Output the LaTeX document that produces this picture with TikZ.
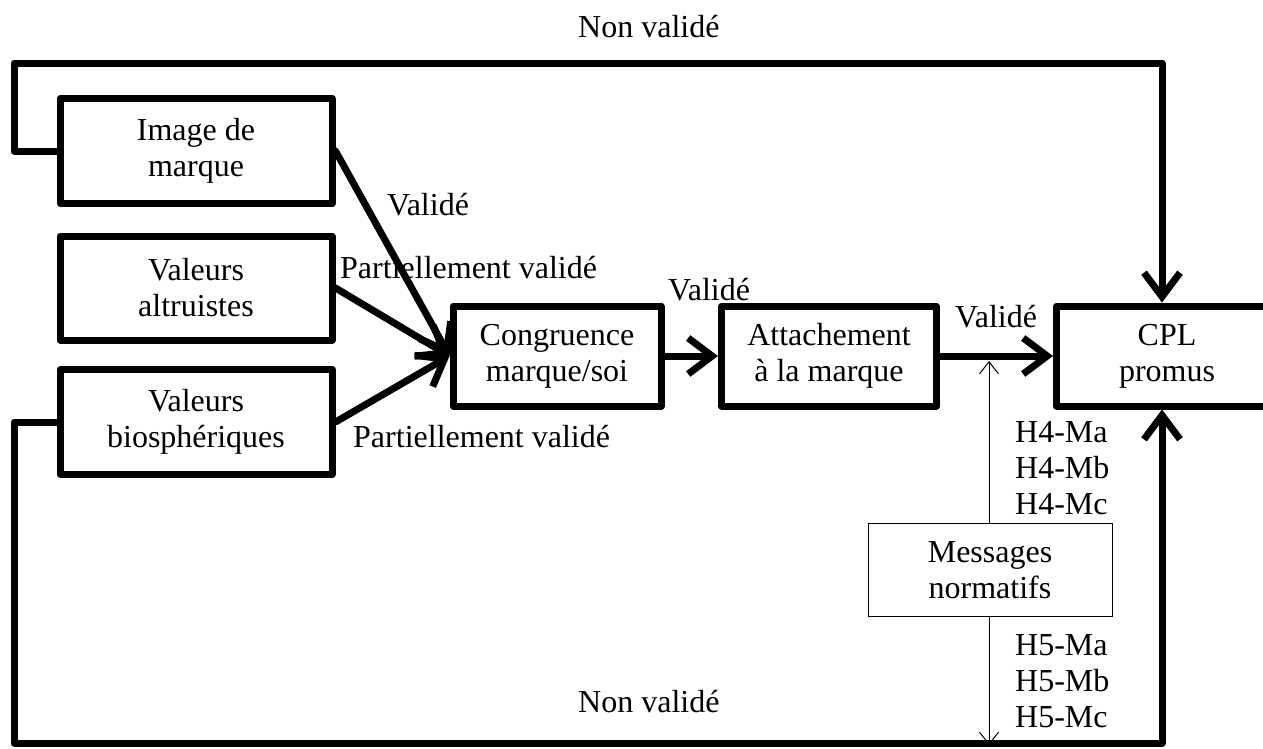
\documentclass[tikz,border=0pt]{standalone}
\usepackage{fontspec}
\setmainfont{Liberation Serif}
\usetikzlibrary{arrows.meta}

\begin{document}
\begin{tikzpicture}[x=1pt, y=-1pt,
  every node/.style={font=\fontsize{32}{36}\selectfont},
  box/.style={draw, line width=7pt, line join=round, align=center, inner sep=0pt},
  thinbox/.style={draw, line width=1pt, align=center, inner sep=0pt},
  flow/.style={line width=7pt, line cap=round, line join=round, -{Straight Barb[length=24pt,width=36pt]}},
  hint/.style={line width=1pt, -{Straight Barb[length=12pt,width=19pt]}}]
  \useasboundingbox (0,0) rectangle (1263,748);
  \clip (0,0) rectangle (1263,748);
  % Inputs
  \node[box, minimum width=272pt, minimum height=105pt] (img) at (196,151) {Image de\\marque};
  \node[box, minimum width=272pt, minimum height=104pt] (alt) at (196,288) {Valeurs\\altruistes};
  \node[box, minimum width=272pt, minimum height=105pt] (bio) at (196,422) {Valeurs\\biosphériques};
  % Chain
  \node[box, minimum width=208pt, minimum height=100pt] (cong) at (557,356) {Congruence\\marque/soi};
  \node[box, minimum width=215pt, minimum height=100pt] (att) at (829,356) {Attachement\\à la marque};
  \node[box, minimum width=221pt, minimum height=100pt] (cpl) at (1167,356) {CPL\\promus};
  % Moderator
  \node[thinbox, minimum width=244pt, minimum height=93pt] (msg) at (990,570) {Messages\\normatifs};
  \coordinate (toph) at (989,361);
  \coordinate (both) at (989,745);
  % Feedback corners
  \coordinate (topr) at (1162,63);
  \coordinate (botr) at (1162,743);
  % Arrows
  \draw[flow] (img.east) -- (cong.west);
  \draw[flow] (alt.east) -- (cong.west);
  \draw[flow] (bio.east) -- (cong.west);
  \draw[flow] (cong.east) -- (att.west);
  \draw[flow] (att.east) -- (cpl.west);
  \draw[flow] (img.west) -- (14,151) |- (topr) -- (topr |- cpl.north);
  \draw[flow] (bio.west) -- (14,422) |- (botr) -- (botr |- cpl.south);
  \draw[hint] (msg.north -| toph) -- (toph);
  \draw[hint] (msg.south -| both) -- (both);
  % Labels
  \node[anchor=base west, inner sep=0pt] (nvtop) at (578,37) {Non validé};
  \node[anchor=base west, inner sep=0pt] (vimg) at (387,215) {Validé};
  \node[anchor=base west, inner sep=0pt] (palt) at (340,278) {Partiellement validé};
  \node[anchor=base west, inner sep=0pt] (vcong) at (668,300) {Validé};
  \node[anchor=base west, inner sep=0pt] (vatt) at (955,327) {Validé};
  \node[anchor=base west, inner sep=0pt] (pbio) at (353,447) {Partiellement validé};
  \node[anchor=base west, inner sep=0pt] (nvbot) at (578,712) {Non validé};
  \node[anchor=west, align=left, inner sep=0pt] (hfour) at (1015,468) {H4-Ma\\H4-Mb\\H4-Mc};
  \node[anchor=west, align=left, inner sep=0pt] (hfive) at (1015,681) {H5-Ma\\H5-Mb\\H5-Mc};
\end{tikzpicture}
\end{document}
